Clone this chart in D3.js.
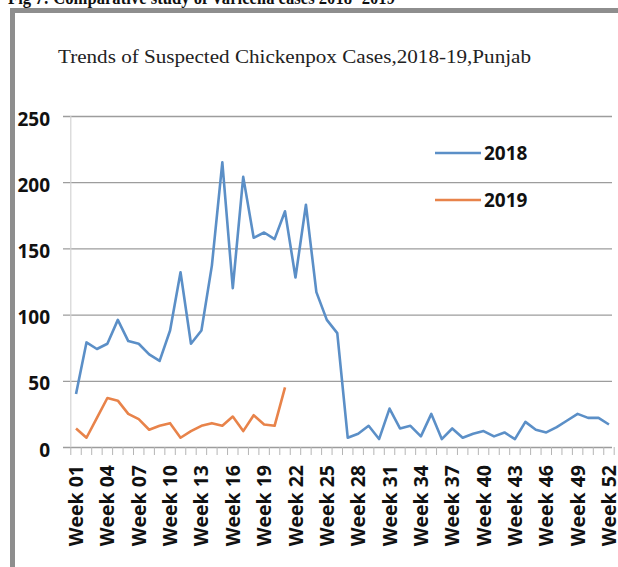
<!DOCTYPE html>
<html>
<head>
<meta charset="utf-8">
<script src="https://cdn.jsdelivr.net/npm/d3@7"></script>
<style>
  html, body { margin: 0; padding: 0; background: #fff; }
  svg { display: block; }
</style>
</head>
<body>
<svg id="chart" width="618" height="567"></svg>
<script>
// Weekly suspected chickenpox cases, Punjab
const weeks = [
  "Week 01","Week 02","Week 03","Week 04","Week 05","Week 06","Week 07","Week 08","Week 09","Week 10",
  "Week 11","Week 12","Week 13","Week 14","Week 15","Week 16","Week 17","Week 18","Week 19","Week 20",
  "Week 21","Week 22","Week 23","Week 24","Week 25","Week 26","Week 27","Week 28","Week 29","Week 30",
  "Week 31","Week 32","Week 33","Week 34","Week 35","Week 36","Week 37","Week 38","Week 39","Week 40",
  "Week 41","Week 42","Week 43","Week 44","Week 45","Week 46","Week 47","Week 48","Week 49","Week 50",
  "Week 51","Week 52"
];
const cases2018 = [
  40, 79, 74, 78, 96, 80, 78, 70, 65, 88,
  132, 78, 88, 137, 215, 120, 204, 158, 162, 157,
  178, 128, 183, 117, 96, 86, 7, 10, 16, 6,
  29, 14, 16, 8, 25, 6, 14, 7, 10, 12,
  8, 11, 6, 19, 13, 11, 15, 20, 25, 22,
  22, 17
];
const cases2019 = [
  14, 7, 22, 37, 35, 25, 21, 13, 16, 18,
  7, 12, 16, 18, 16, 23, 12, 24, 17, 16,
  45
];
const weekTickLabels = [
  "Week 01","Week 04","Week 07","Week 10","Week 13","Week 16","Week 19","Week 22","Week 25",
  "Week 28","Week 31","Week 34","Week 37","Week 40","Week 43","Week 46","Week 49","Week 52"
];
const yTickValues = [0, 50, 100, 150, 200, 250];
const seriesNames = ["2018", "2019"];
const seriesColors = ["#5b8fc7", "#e8834a"];

const captionText = "Fig 7: Comparative study of Varicella cases 2018- 2019";
const titleText = "Trends of Suspected Chickenpox Cases,2018-19,Punjab";

const svg = d3.select("#chart");
const sansFont = "'Open Sans', 'DejaVu Sans', sans-serif";
const serifFont = "'Liberation Serif', 'DejaVu Serif', serif";

// Plot geometry
const plot = { left: 70.8, right: 614.2, top: 116, bottom: 447 };

const x = d3.scaleBand().domain(weeks).range([plot.left, plot.right]).padding(0);
const xc = d => x(d) + x.bandwidth() / 2;
const y = d3.scaleLinear().domain([0, 250]).range([plot.bottom, plot.top]);

// Figure caption, clipped at the top edge of the page
svg.append("text")
  .attr("x", 8).attr("y", 4)
  .attr("font-family", serifFont)
  .attr("font-weight", 700)
  .attr("font-size", 18)
  .attr("textLength", 387)
  .attr("lengthAdjust", "spacingAndGlyphs")
  .attr("fill", "#111")
  .text(captionText);

// Chart frame
svg.append("rect")
  .attr("x", 12.5).attr("y", 10.5)
  .attr("width", 640).attr("height", 600)
  .attr("fill", "#fff")
  .attr("stroke", "#8e8e8e")
  .attr("stroke-width", 5);

// Chart title
svg.append("text")
  .attr("x", 58).attr("y", 63)
  .attr("font-family", serifFont)
  .attr("font-size", 19)
  .attr("textLength", 473)
  .attr("lengthAdjust", "spacingAndGlyphs")
  .attr("fill", "#222")
  .text(titleText);

// Y axis with gridlines
const yAxis = svg.append("g")
  .attr("transform", "translate(63,0)")
  .call(d3.axisLeft(y).tickValues(yTickValues).tickSize(-(612 - 63)).tickPadding(13));
yAxis.select(".domain").remove();
yAxis.selectAll(".tick line").attr("stroke", "#9d9d9d").attr("stroke-width", 1.3);
yAxis.selectAll(".tick text")
  .attr("font-family", sansFont)
  .attr("font-weight", 700)
  .attr("font-size", 19)
  .attr("fill", "#111")
  .attr("dy", "0.48em");

// Vertical value axis line
svg.append("line")
  .attr("x1", plot.left).attr("x2", plot.left)
  .attr("y1", plot.top).attr("y2", plot.bottom)
  .attr("stroke", "#d4d4d4").attr("stroke-width", 1.2);

// Category tick marks between weeks
const boundaries = weeks.map(w => x(w)).concat([x(weeks[weeks.length - 1]) + x.bandwidth()]);
svg.append("g").selectAll("line")
  .data(boundaries)
  .join("line")
  .attr("x1", d => d).attr("x2", d => d)
  .attr("y1", plot.bottom).attr("y2", plot.bottom + 8)
  .attr("stroke", "#b5b5b5").attr("stroke-width", 1);

// X axis labels
const xAxis = svg.append("g")
  .attr("transform", `translate(0,${plot.bottom})`)
  .call(d3.axisBottom(x).tickValues(weekTickLabels).tickSize(0).tickPadding(0));
xAxis.select(".domain").remove();
xAxis.selectAll(".tick text")
  .attr("font-family", sansFont)
  .attr("font-weight", 700)
  .attr("font-size", 19.5)
  .attr("fill", "#111")
  .attr("text-anchor", "end")
  .attr("transform", "rotate(-90)")
  .attr("x", -18)
  .attr("y", 0)
  .attr("dy", "0.36em");

// Series lines
const line = d3.line()
  .x((d, i) => xc(weeks[i]))
  .y(d => y(d));

[cases2018, cases2019].forEach((series, k) => {
  svg.append("path")
    .datum(series)
    .attr("fill", "none")
    .attr("stroke", seriesColors[k])
    .attr("stroke-width", 2.6)
    .attr("stroke-linejoin", "round")
    .attr("d", line);
});

// Legend
const legendRows = [153, 200];
seriesNames.forEach((name, k) => {
  const g = svg.append("g").attr("transform", `translate(435,${legendRows[k]})`);
  g.append("line")
    .attr("x1", 0).attr("x2", 46)
    .attr("y1", 0).attr("y2", 0)
    .attr("stroke", seriesColors[k])
    .attr("stroke-width", 2.6);
  g.append("text")
    .attr("x", 49).attr("y", 0)
    .attr("dy", "0.36em")
    .attr("font-family", sansFont)
    .attr("font-weight", 700)
    .attr("font-size", 19)
    .attr("fill", "#111")
    .text(name);
});
</script>
</body>
</html>
